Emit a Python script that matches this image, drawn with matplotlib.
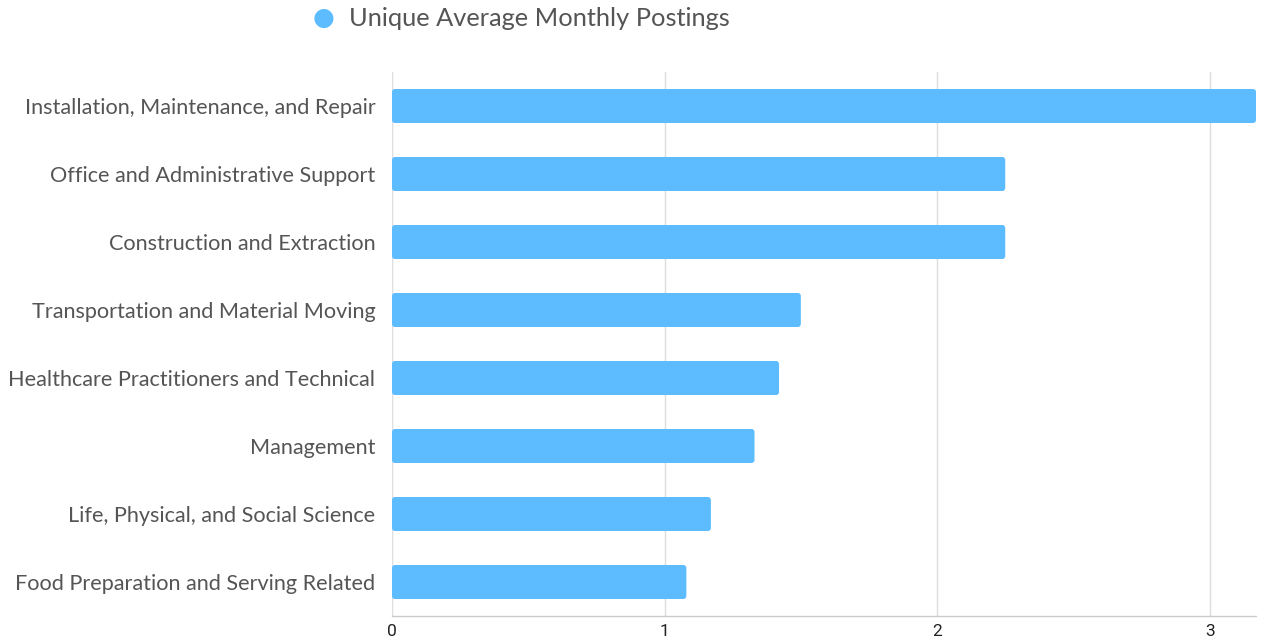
import matplotlib.pyplot as plt
from matplotlib.patches import FancyBboxPatch

# occupations, top to bottom
categories = [
    "Installation, Maintenance, and Repair",
    "Office and Administrative Support",
    "Construction and Extraction",
    "Transportation and Material Moving",
    "Healthcare Practitioners and Technical",
    "Management",
    "Life, Physical, and Social Science",
    "Food Preparation and Serving Related",
]
postings = [3.17, 2.25, 2.25, 1.5, 1.42, 1.33, 1.17, 1.08]
series_name = "Unique Average Monthly Postings"
xticks = [0, 1, 2, 3]

BAR = "#5cbcff"
LABEL = "#555555"

fig = plt.figure(figsize=(12.69, 6.44), dpi=100)
ax = fig.add_axes([392 / 1269, 28 / 644, 864 / 1269, 544 / 644])

ypos = list(range(len(categories)))
bars = ax.barh(ypos, postings, height=0.5, color=BAR, zorder=3)

# swap the plain rectangles for slightly rounded ones
xr = 3 / 272.7
for b in bars:
    x, y = b.get_x(), b.get_y()
    w, h = b.get_width(), b.get_height()
    b.set_visible(False)
    ax.add_patch(FancyBboxPatch((x, y), w, h,
                                boxstyle=f"round,pad=0,rounding_size={xr}",
                                mutation_aspect=272.7 / 68,
                                fc=BAR, ec="none", zorder=3))

ax.set_xlim(0, max(postings))
ax.set_ylim(len(categories) - 0.5, -0.5)
ax.set_yticks(ypos)
ax.set_yticklabels(categories, family="Lato", fontsize=15.6, color=LABEL)
ax.set_xticks(xticks)
ax.set_xticklabels([str(t) for t in xticks], family="Roboto", fontsize=12.5, color="#222222")

ax.tick_params(axis="y", length=0, pad=12)
ax.tick_params(axis="x", length=0, pad=6)
ax.grid(axis="x", color="#dddddd", linewidth=1, zorder=0)
for s in ["top", "right", "left"]:
    ax.spines[s].set_visible(False)
ax.spines["bottom"].set_color("#cccccc")
ax.spines["bottom"].set_linewidth(1)

# legend up top
fig.text(324 / 1269, 1 - 18 / 644, "\u25cf", color=BAR, fontsize=18,
         ha="center", va="center", family="DejaVu Sans")
fig.text(349 / 1269, 1 - 19 / 644, series_name, color=LABEL, fontsize=18.3,
         ha="left", va="center", family="Lato")

fig.savefig("out.png", dpi=100)
